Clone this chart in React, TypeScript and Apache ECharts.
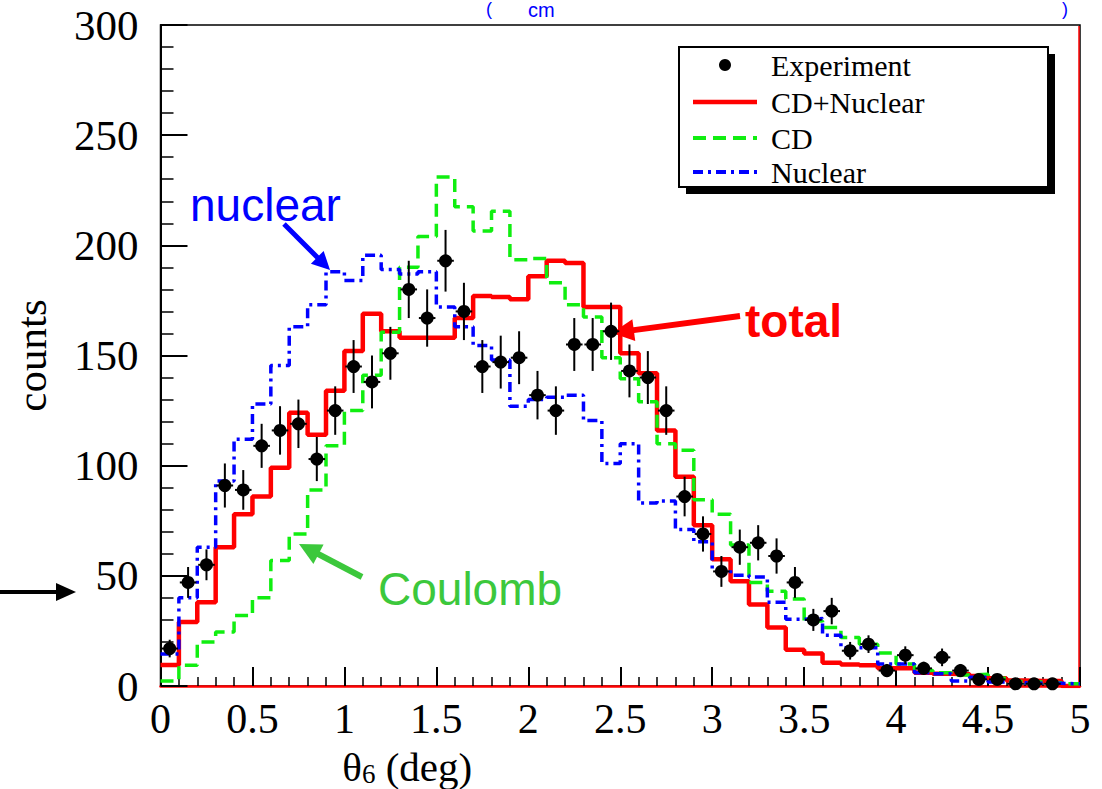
import React, { useEffect, useRef } from "react";
import * as echarts from "echarts";

// ---- data ----
const binWidth = 0.1;
const xMin = 0;
const xMax = 5;
const yMin = 0;
const yMax = 300;

// experiment: bin centres, counts, errors
const expX = [
  0.05, 0.15, 0.25, 0.35, 0.45, 0.55, 0.65, 0.75, 0.85, 0.95,
  1.05, 1.15, 1.25, 1.35, 1.45, 1.55, 1.65, 1.75, 1.85, 1.95,
  2.05, 2.15, 2.25, 2.35, 2.45, 2.55, 2.65, 2.75, 2.85, 2.95,
  3.05, 3.15, 3.25, 3.35, 3.45, 3.55, 3.65, 3.75, 3.85, 3.95,
  4.05, 4.15, 4.25, 4.35, 4.45, 4.55, 4.65, 4.75, 4.85,
];
const expCounts = [
  17, 47, 55, 91, 89, 109, 116, 119, 103, 125,
  145, 138, 151, 180, 167, 193, 170, 145, 147, 149,
  132, 125, 155, 155, 161, 143, 140, 125, 86, 69,
  52, 63, 65, 59, 47, 30, 34, 16, 19, 7,
  14, 8, 13, 7, 3, 3, 1, 1, 1,
];
const expErrors = [
  4, 7, 7, 10, 9, 10, 11, 11, 10, 11,
  12, 12, 12, 13, 13, 14, 13, 12, 12, 12,
  11, 11, 12, 12, 13, 12, 12, 11, 9, 8,
  7, 8, 8, 8, 7, 5, 6, 4, 4, 3,
  4, 3, 4, 3, 2, 2, 1, 1, 1,
];

// histograms: one value per 0.1-wide bin from 0 to 5
const totalCounts = [
  9.5, 29, 38, 63, 78, 86, 99, 124, 114, 134,
  152, 169, 161, 158, 158, 158, 167, 177, 176.5, 175.5,
  186, 193, 192, 172, 172, 151, 142, 116, 95, 73,
  57.5, 47.5, 37, 26.5, 16.5, 14.7, 10.6, 9.8, 9.4, 8,
  8, 6, 5.6, 5.3, 4.5, 3.5, 2.5, 2.3, 2.3, 0,
];
const cdCounts = [
  2.3, 9.4, 20, 24.5, 32, 40, 57, 69, 89, 109,
  125, 141, 160.5, 190, 204, 231, 217.5, 206.5, 215.5, 193.5,
  194, 183, 173, 167.5, 149, 139.5, 129, 110, 107, 84.5,
  78, 64, 47, 43, 39.5, 29.5, 26.5, 22, 19, 15,
  10, 7, 6, 5, 5.3, 3.5, 2, 1.8, 1.5, 1,
];
const nuclearCounts = [
  14.5, 40, 63, 93, 112, 128, 145.5, 163, 173, 188,
  184, 195.5, 189, 187, 188, 172, 163, 154.5, 148, 127,
  130, 131, 132, 120.5, 101, 110, 83, 84, 71, 65.5,
  53, 50.3, 49.5, 38, 30.3, 30.6, 23, 17.4, 17.4, 10,
  10, 6, 5.6, 2.3, 4, 1.8, 1.5, 1.2, 1.2, 1,
];

const legendLabels = ["Experiment", "CD+Nuclear", "CD", "Nuclear"];

// ---- styling ----
const RED = "#ff0000";
const GREEN = "#10ee10";
const BLUE = "#0000ff";
const SERIF = "'Liberation Serif', 'Times New Roman', serif";
const SANS = "'Liberation Sans', Arial, sans-serif";
const GREEN_DASH = [13, 7];
const BLUE_DASH = [10, 5, 3, 5];

const histData = (vals: number[]) => {
  const pts: number[][] = vals.map((v, i) => [+(xMin + i * binWidth).toFixed(2), v]);
  pts.push([xMax, vals[vals.length - 1]]);
  return pts;
};

function arrow(
  x1: number, y1: number, x2: number, y2: number,
  color: string, w: number, hl: number, hw: number
) {
  const dx = x2 - x1;
  const dy = y2 - y1;
  const len = Math.hypot(dx, dy);
  const ux = dx / len;
  const uy = dy / len;
  const bx = x2 - ux * hl;
  const by = y2 - uy * hl;
  const px = -uy;
  const py = ux;
  return [
    { type: "line", shape: { x1, y1, x2: bx + ux * 2, y2: by + uy * 2 }, style: { stroke: color, lineWidth: w } },
    {
      type: "polygon",
      shape: { points: [[x2, y2], [bx + px * hw, by + py * hw], [bx - px * hw, by - py * hw]] },
      style: { fill: color },
    },
  ];
}

export default function App() {
  const ref = useRef<HTMLDivElement>(null);

  useEffect(() => {
    if (!ref.current) return;
    const chart = echarts.init(ref.current, null, { renderer: "svg" });

    const lgX = 679, lgY = 47, lgW = 369, lgH = 140;
    const rowY = [65, 102, 138, 172];
    const lineX1 = 693, lineX2 = 757, textX = 771;

    const graphic: any[] = [
      // blue heading fragments at the very top
      { type: "text", x: 486, y: 0, style: { text: "(", font: `18px ${SANS}`, fill: BLUE, textVerticalAlign: "top" } },
      { type: "text", x: 528, y: 0, style: { text: "cm", font: `20px ${SANS}`, fill: BLUE, textVerticalAlign: "top" } },
      { type: "text", x: 1062, y: 0, style: { text: ")", font: `18px ${SANS}`, fill: BLUE, textVerticalAlign: "top" } },
      // right frame (red)
      { type: "line", shape: { x1: 1079, y1: 26, x2: 1079, y2: 686 }, style: { stroke: RED, lineWidth: 1.5 } },
      // legend
      { type: "rect", shape: { x: lgX + 7, y: lgY + 7, width: lgW, height: lgH }, style: { fill: "#000" } },
      { type: "rect", shape: { x: lgX, y: lgY, width: lgW, height: lgH }, style: { fill: "#fff", stroke: "#000", lineWidth: 2 } },
      { type: "circle", shape: { cx: (lineX1 + lineX2) / 2, cy: rowY[0], r: 6 }, style: { fill: "#000" } },
      { type: "line", shape: { x1: lineX1, y1: rowY[1], x2: lineX2, y2: rowY[1] }, style: { stroke: RED, lineWidth: 4.5 } },
      { type: "line", shape: { x1: lineX1, y1: rowY[2], x2: lineX2, y2: rowY[2] }, style: { stroke: GREEN, lineWidth: 4, lineDash: GREEN_DASH } },
      { type: "line", shape: { x1: lineX1, y1: rowY[3], x2: lineX2, y2: rowY[3] }, style: { stroke: BLUE, lineWidth: 4, lineDash: BLUE_DASH } },
      ...legendLabels.map((t, i) => ({
        type: "text",
        x: textX,
        y: rowY[i],
        style: { text: t, font: `30px ${SERIF}`, fill: "#000", textVerticalAlign: "middle" },
      })),
      // annotations
      { type: "text", x: 190, y: 205, style: { text: "nuclear", font: `46px ${SANS}`, fill: BLUE, textVerticalAlign: "middle" } },
      ...arrow(284, 224, 330, 270, BLUE, 5, 18, 9),
      { type: "text", x: 745, y: 321, style: { text: "total", font: `bold 46px ${SANS}`, fill: RED, textVerticalAlign: "middle" } },
      ...arrow(740, 316, 612, 333, RED, 6, 22, 11),
      { type: "text", x: 378, y: 589, style: { text: "Coulomb", font: `46px ${SANS}`, fill: "#3cc83c", textVerticalAlign: "middle" } },
      ...arrow(362, 577, 299, 544, "#3cc83c", 6, 22, 11),
      ...arrow(0, 592, 76, 592, "#000", 4, 20, 9),
    ];

    const option: any = {
      animation: false,
      backgroundColor: "#fff",
      grid: {
        left: 160.5, right: 22, top: 25, bottom: 103,
        containLabel: false, outerBoundsMode: "none",
        show: true, borderColor: "#000", borderWidth: 1.5,
      },
      xAxis: {
        type: "value",
        min: xMin,
        max: xMax,
        interval: 0.5,
        name: "{a|θ}{b|6}{a| (deg)}",
        nameLocation: "middle",
        nameGap: 43,
        nameTextStyle: {
          padding: [0, 426, 0, 0],
          rich: {
            a: { fontFamily: SERIF, fontSize: 41, color: "#000", lineHeight: 42, verticalAlign: "bottom" },
            b: { fontFamily: SERIF, fontSize: 27, color: "#000", lineHeight: 26, verticalAlign: "bottom", padding: [16, 0, 0, 0] },
          },
        },
        axisLine: { onZero: false, lineStyle: { color: RED, width: 2.5 } },
        axisTick: { inside: true, length: 19, lineStyle: { color: "#000", width: 2 } },
        minorTick: { show: true, splitNumber: 5, length: 9, lineStyle: { color: "#000", width: 1.5 } },
        axisLabel: { fontFamily: SERIF, fontSize: 42, color: "#000", margin: 12, showMinLabel: true, showMaxLabel: true },
        splitLine: { show: false },
      },
      yAxis: {
        type: "value",
        min: yMin,
        max: yMax,
        interval: 50,
        name: "counts",
        nameLocation: "middle",
        nameGap: 108,
        nameTextStyle: { fontFamily: SERIF, fontSize: 43, color: "#000" },
        axisLine: { show: true, lineStyle: { color: "#000", width: 2 } },
        axisTick: { inside: true, length: 27, lineStyle: { color: "#000", width: 2 } },
        minorTick: { show: true, splitNumber: 5, length: 13, lineStyle: { color: "#000", width: 1.5 } },
        axisLabel: { fontFamily: SERIF, fontSize: 43, color: "#000", margin: 22, showMinLabel: true, showMaxLabel: true },
        splitLine: { show: false },
      },
      series: [
        {
          name: "CD+Nuclear",
          type: "line",
          step: "end",
          symbol: "none",
          data: histData(totalCounts),
          lineStyle: { color: RED, width: 4.5 },
          z: 2,
        },
        {
          name: "CD",
          type: "line",
          step: "end",
          symbol: "none",
          data: histData(cdCounts),
          lineStyle: { color: GREEN, width: 3.5, type: GREEN_DASH },
          z: 3,
        },
        {
          name: "Nuclear",
          type: "line",
          step: "end",
          symbol: "none",
          data: histData(nuclearCounts),
          lineStyle: { color: BLUE, width: 3.5, type: BLUE_DASH },
          z: 4,
        },
        {
          name: "Experiment",
          type: "custom",
          z: 5,
          encode: { x: 0, y: 1 },
          data: expX.map((x, i) => [x, expCounts[i], expErrors[i]]),
          renderItem: (params: any, api: any) => {
            const x = api.value(0);
            const y = api.value(1);
            const e = api.value(2);
            const c = api.coord([x, y]);
            const top = api.coord([x, y + e]);
            const bot = api.coord([x, Math.max(0, y - e)]);
            const l = api.coord([x - 0.045, y]);
            const r = api.coord([x + 0.045, y]);
            return {
              type: "group",
              children: [
                { type: "line", shape: { x1: c[0], y1: top[1], x2: c[0], y2: bot[1] }, style: { stroke: "#000", lineWidth: 2 } },
                { type: "line", shape: { x1: l[0], y1: c[1], x2: r[0], y2: c[1] }, style: { stroke: "#000", lineWidth: 2 } },
                { type: "circle", shape: { cx: c[0], cy: c[1], r: 6.5 }, style: { fill: "#000" } },
              ],
            };
          },
        },
      ],
      graphic,
    };

    chart.setOption(option);
    return () => chart.dispose();
  }, []);

  return (
    <div
      ref={ref}
      style={{ position: "absolute", left: 0, top: 0, width: 1102, height: 789, background: "#fff" }}
    />
  );
}
